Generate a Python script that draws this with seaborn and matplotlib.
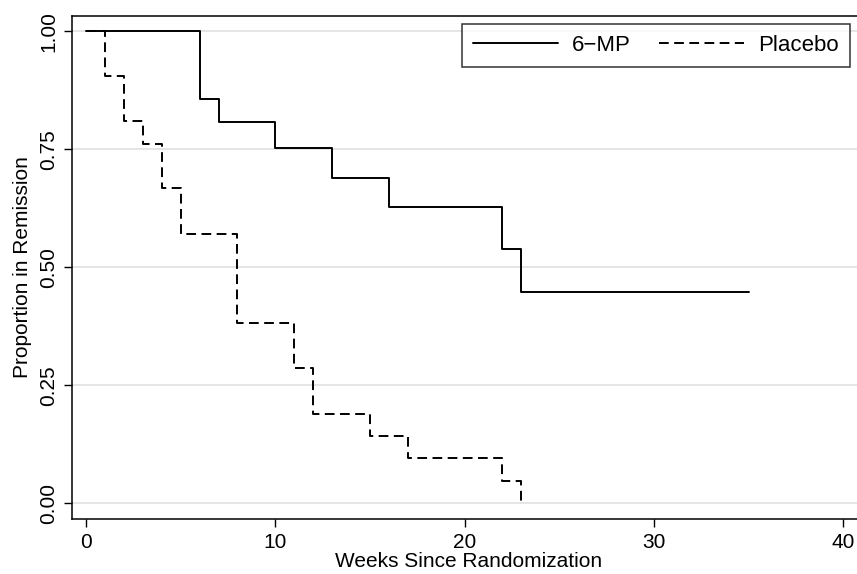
import matplotlib
matplotlib.use("Agg")
import matplotlib.pyplot as plt
import seaborn as sns
import pandas as pd

# Kaplan-Meier estimates
mp_weeks = [0, 6, 7, 10, 13, 16, 22, 23, 35]
mp_surv = [1.0, 0.857, 0.807, 0.753, 0.690, 0.627, 0.538, 0.448, 0.448]
pl_weeks = [0, 1, 2, 3, 4, 5, 8, 11, 12, 15, 17, 22, 23]
pl_surv = [1.0, 0.905, 0.810, 0.762, 0.667, 0.571, 0.381, 0.286, 0.190, 0.143, 0.095, 0.048, 0.0]
groups = ["6\u2212MP", "Placebo"]
x_ticks = [0, 10, 20, 30, 40]
y_ticks = [0.0, 0.25, 0.5, 0.75, 1.0]
y_ticklabels = ["0.00", "0.25", "0.50", "0.75", "1.00"]

df = pd.concat([
    pd.DataFrame({"week": mp_weeks, "surv": mp_surv, "group": groups[0]}),
    pd.DataFrame({"week": pl_weeks, "surv": pl_surv, "group": groups[1]}),
])

sns.set_theme(style="white")
plt.rcParams["font.family"] = ["Liberation Sans", "DejaVu Sans"]
plt.rcParams["text.color"] = "black"
plt.rcParams["axes.labelcolor"] = "black"
plt.rcParams["xtick.color"] = "black"
plt.rcParams["ytick.color"] = "black"

fig = plt.figure(figsize=(8.57, 5.74), dpi=100)
ax = fig.add_axes([72 / 857, 1 - 518.7 / 574, 1 - 72 / 857 + 0.01, (518.7 - 16) / 574])

styles = {groups[0]: "-", groups[1]: (0, (5, 2.8))}
for g in groups:
    sub = df[df["group"] == g]
    sns.lineplot(data=sub, x="week", y="surv", ax=ax, color="black",
                 drawstyle="steps-post", estimator=None, linewidth=1.4,
                 linestyle=styles[g], label=g)

ax.set_xlim(-0.74, 40.73 + 0.01 * 857 / 18.93)
ax.set_ylim(-0.0326, 1.0324)
ax.set_xticks(x_ticks)
ax.set_yticks(y_ticks)
ax.set_yticklabels(y_ticklabels, rotation=90, va="center")
ax.tick_params(axis="both", labelsize=15, length=6, width=1.0, color="black",
               labelcolor="black", bottom=True, left=True, direction="out", pad=4)
ax.yaxis.grid(True, color="#e3e3e3", linewidth=1.3)
ax.set_axisbelow(True)
for s in ["left", "bottom", "top"]:
    ax.spines[s].set_color("black")
    ax.spines[s].set_linewidth(1.1)
ax.spines["right"].set_visible(False)

ax.set_xlabel("Weeks Since Randomization", fontsize=15, labelpad=0, color="black")
ax.set_ylabel("Proportion in Remission", fontsize=15, labelpad=5, color="black")

leg = ax.legend(loc="upper right", bbox_to_anchor=(850 / 857, 1 - 24 / 574),
                bbox_transform=fig.transFigure, ncol=2, fontsize=16,
                frameon=True, fancybox=False, edgecolor="black",
                handlelength=3.83, handletextpad=0.63, columnspacing=1.26,
                borderpad=0.5, borderaxespad=0)
leg.get_frame().set_linewidth(1.1)
for t in leg.get_texts():
    t.set_color("black")

fig.savefig("out.png", dpi=100)
